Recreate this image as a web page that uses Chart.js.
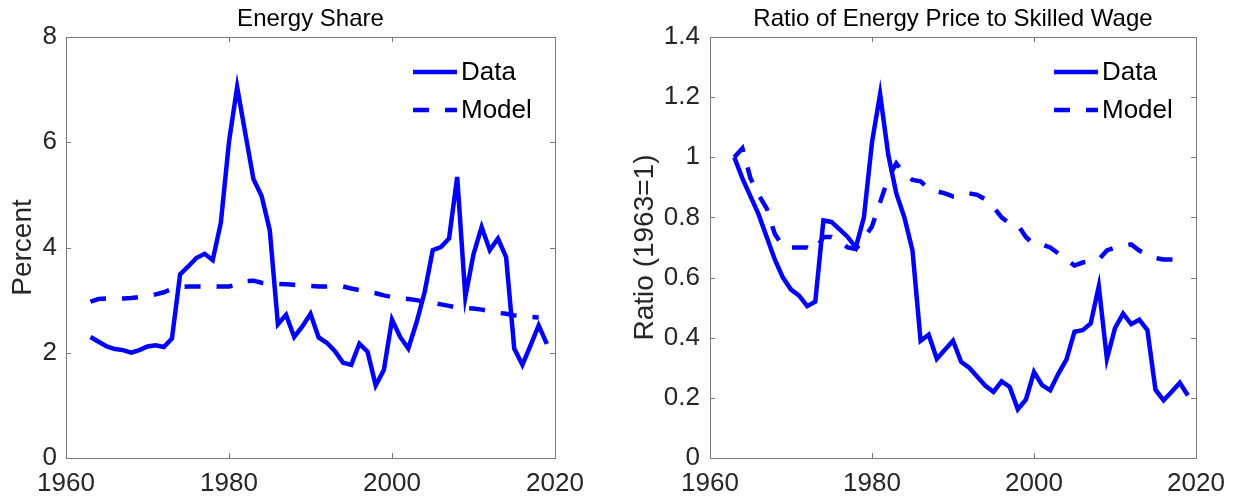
<!DOCTYPE html>
<html>
<head>
<meta charset="utf-8">
<script src="https://cdn.jsdelivr.net/npm/chart.js@4.4.1/dist/chart.umd.min.js"></script>
<style>
html, body { margin: 0; padding: 0; background: #fff; }
#wrap { position: relative; width: 1236px; height: 502px; overflow: hidden; }
canvas { position: absolute; top: 0; }
#shareChart { left: 0; }
#ratioChart { left: 600px; }
</style>
</head>
<body>
<div id="wrap">
  <canvas id="shareChart" width="600" height="502"></canvas>
  <canvas id="ratioChart" width="636" height="502"></canvas>
</div>
<script>
// years of the observations (model runs one year shorter)
const years = [1963, 1964, 1965, 1966, 1967, 1968, 1969, 1970, 1971, 1972,
  1973, 1974, 1975, 1976, 1977, 1978, 1979, 1980, 1981, 1982,
  1983, 1984, 1985, 1986, 1987, 1988, 1989, 1990, 1991, 1992,
  1993, 1994, 1995, 1996, 1997, 1998, 1999, 2000, 2001, 2002,
  2003, 2004, 2005, 2006, 2007, 2008, 2009, 2010, 2011, 2012,
  2013, 2014, 2015, 2016, 2017, 2018, 2019];

// Energy share, percent
const shareData = [2.30, 2.21, 2.12, 2.07, 2.05, 2.00, 2.05, 2.12, 2.14, 2.11,
  2.27, 3.49, 3.64, 3.80, 3.88, 3.76, 4.47, 6.01, 7.05, 6.17,
  5.30, 4.98, 4.33, 2.54, 2.72, 2.30, 2.50, 2.74, 2.29, 2.19,
  2.03, 1.81, 1.77, 2.17, 2.02, 1.38, 1.67, 2.63, 2.30, 2.08,
  2.57, 3.15, 3.95, 4.01, 4.17, 5.34, 3.06, 3.87, 4.39, 3.95,
  4.17, 3.82, 2.08, 1.77, 2.14, 2.52, 2.17];
const shareModel = [2.97, 3.02, 3.03, 3.03, 3.03, 3.04, 3.06, 3.08, 3.11, 3.15,
  3.21, 3.25, 3.26, 3.26, 3.26, 3.26, 3.26, 3.26, 3.29, 3.36,
  3.37, 3.33, 3.31, 3.31, 3.30, 3.29, 3.28, 3.27, 3.26, 3.26,
  3.27, 3.26, 3.22, 3.19, 3.16, 3.13, 3.09, 3.06, 3.04, 3.02,
  3.00, 2.97, 2.95, 2.92, 2.89, 2.86, 2.85, 2.84, 2.82, 2.79,
  2.76, 2.74, 2.71, 2.69, 2.68, 2.67];

// energy price relative to skilled wage, 1963 = 1
const ratioData = [1.00, 0.93, 0.87, 0.81, 0.735, 0.66, 0.60, 0.56, 0.54, 0.505,
  0.52, 0.79, 0.785, 0.76, 0.735, 0.70, 0.80, 1.05, 1.21, 1.01,
  0.88, 0.80, 0.69, 0.39, 0.41, 0.33, 0.36, 0.39, 0.32, 0.30,
  0.27, 0.24, 0.22, 0.255, 0.236, 0.162, 0.194, 0.286, 0.242, 0.225,
  0.28, 0.327, 0.42, 0.425, 0.447, 0.571, 0.33, 0.432, 0.48, 0.445,
  0.46, 0.425, 0.227, 0.192, 0.22, 0.25, 0.208];
const ratioModel = [1.00, 1.03, 0.93, 0.875, 0.83, 0.745, 0.705, 0.70, 0.70, 0.70,
  0.69, 0.735, 0.735, 0.72, 0.70, 0.695, 0.73, 0.77, 0.85, 0.93,
  0.98, 0.945, 0.925, 0.92, 0.895, 0.887, 0.88, 0.87, 0.87, 0.88,
  0.875, 0.86, 0.835, 0.80, 0.78, 0.775, 0.735, 0.71, 0.71, 0.70,
  0.68, 0.66, 0.64, 0.65, 0.655, 0.66, 0.69, 0.70, 0.705, 0.71,
  0.69, 0.675, 0.665, 0.66, 0.66, 0.66];

const xTicks = [1960, 1980, 2000, 2020];
const shareTicks = [0, 2, 4, 6, 8];
const ratioTicks = [0, 0.2, 0.4, 0.6, 0.8, 1, 1.2, 1.4];

const FONT = '"Liberation Sans", Arial, Helvetica, sans-serif';
const BLUE = '#0000ff';
const TEXT = '#262626';
const AXIS = '#7a7a7a';

function points(vals) {
  return vals.map((v, i) => ({ x: years[i], y: v }));
}

// MATLAB-like box: border on all sides, ticks pointing inward, title, legend
function matlabPlugin(title) {
  return {
    id: 'matlabBox',
    afterDatasetsDraw(chart) {
      const { ctx, chartArea: a, scales } = chart;
      ctx.save();
      ctx.strokeStyle = AXIS;
      ctx.lineWidth = 1;
      ctx.strokeRect(a.left + 0.5, a.top + 0.5, a.right - a.left, a.bottom - a.top);
      ctx.beginPath();
      scales.x.ticks.forEach(t => {
        const px = Math.round(scales.x.getPixelForValue(t.value)) + 0.5;
        ctx.moveTo(px, a.bottom); ctx.lineTo(px, a.bottom - 5);
        ctx.moveTo(px, a.top); ctx.lineTo(px, a.top + 5);
      });
      scales.y.ticks.forEach(t => {
        const py = Math.round(scales.y.getPixelForValue(t.value)) + 0.5;
        ctx.moveTo(a.left, py); ctx.lineTo(a.left + 5, py);
        ctx.moveTo(a.right, py); ctx.lineTo(a.right - 5, py);
      });
      ctx.stroke();

      // title
      ctx.fillStyle = '#000';
      ctx.font = '24px ' + FONT;
      ctx.textAlign = 'center';
      ctx.textBaseline = 'alphabetic';
      ctx.fillText(title, (a.left + a.right) / 2, 26);

      // legend
      ctx.font = '26px ' + FONT;
      ctx.textAlign = 'left';
      ctx.textBaseline = 'middle';
      chart.data.datasets.forEach((ds, i) => {
        const y = a.top + 35 + i * 38;
        ctx.strokeStyle = ds.borderColor;
        ctx.lineWidth = ds.borderWidth;
        ctx.setLineDash(ds.borderDash || []);
        ctx.beginPath();
        ctx.moveTo(a.right - 142, y);
        ctx.lineTo(a.right - 98, y);
        ctx.stroke();
        ctx.setLineDash([]);
        ctx.fillStyle = '#000';
        ctx.fillText(ds.label, a.right - 94, y + 1);
      });
      ctx.restore();
    }
  };
}

function makeChart(id, cfg) {
  new Chart(document.getElementById(id), {
    type: 'line',
    data: {
      datasets: [{
        label: 'Data',
        data: points(cfg.data),
        borderColor: BLUE,
        borderWidth: 4.5,
        pointRadius: 0,
        tension: 0,
        fill: false
      }, {
        label: 'Model',
        data: points(cfg.model),
        borderColor: BLUE,
        borderWidth: 4.5,
        borderDash: [16, 16],
        pointRadius: 0,
        tension: 0,
        fill: false
      }]
    },
    options: {
      responsive: false,
      animation: false,
      layout: { padding: { left: 0, right: cfg.padRight, top: 37, bottom: 0 } },
      plugins: {
        legend: { display: false },
        tooltip: { enabled: false }
      },
      scales: {
        x: {
          type: 'linear',
          min: 1960,
          max: 2020,
          afterBuildTicks: s => { s.ticks = xTicks.map(v => ({ value: v })); },
          afterFit: s => { s.height = 44; s.paddingLeft = 0; s.paddingRight = 0; },
          grid: { display: false, drawTicks: false },
          border: { display: false },
          ticks: {
            color: TEXT,
            font: { family: FONT, size: 26 },
            padding: 10,
            maxRotation: 0,
            autoSkip: false,
            callback: v => String(v)
          }
        },
        y: {
          min: 0,
          max: cfg.yTicks[cfg.yTicks.length - 1],
          afterBuildTicks: s => { s.ticks = cfg.yTicks.map(v => ({ value: v })); },
          afterFit: s => { s.width = cfg.yWidth; s.paddingTop = 0; s.paddingBottom = 0; },
          grid: { display: false, drawTicks: false },
          border: { display: false },
          ticks: {
            color: TEXT,
            font: { family: FONT, size: 26 },
            padding: cfg.tickPad,
            callback: v => String(+Number(v).toFixed(1))
          },
          title: {
            display: true,
            text: cfg.yLabel,
            color: TEXT,
            font: { family: FONT, size: 28 },
            padding: { top: cfg.labelPad, bottom: 0 }
          }
        }
      }
    },
    plugins: [matlabPlugin(cfg.title)]
  });
}

makeChart('shareChart', {
  data: shareData, model: shareModel, yTicks: shareTicks,
  title: 'Energy Share', yLabel: 'Percent',
  yWidth: 66, padRight: 45, tickPad: 9, labelPad: 6
});

makeChart('ratioChart', {
  data: ratioData, model: ratioModel, yTicks: ratioTicks,
  title: 'Ratio of Energy Price to Skilled Wage', yLabel: 'Ratio (1963=1)',
  yWidth: 110, padRight: 40, tickPad: 10, labelPad: 28
});
</script>
</body>
</html>
